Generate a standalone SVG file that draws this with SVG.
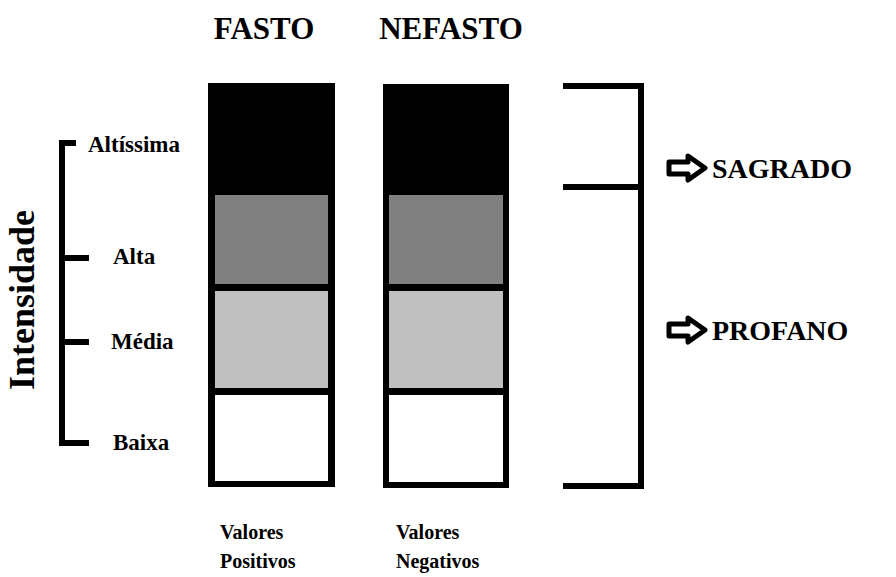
<svg xmlns="http://www.w3.org/2000/svg" width="896" height="577" viewBox="0 0 896 577">
<style>
text{font-family:'Liberation Serif','Times New Roman',Times,serif;font-weight:700;fill:#000}
.title{font-size:31px}
.lvl{font-size:23px}
.side{font-size:28px}
.foot{font-size:20px}
.br{fill:none;stroke:#000;stroke-width:6}
.arr{fill:#fff;stroke:#000;stroke-width:5;stroke-linejoin:round}
.c1{fill:#808080}.c2{fill:#c0c0c0}.c3{fill:#fff}
</style>
<rect width="896" height="577" fill="#fff"/>
<g id="titles">
<text class="title" x="264" y="39" text-anchor="middle">FASTO</text>
<text class="title" x="451" y="39" text-anchor="middle">NEFASTO</text>
</g>
<g id="col-fasto">
<rect x="208" y="83" width="127" height="404" fill="#000"/>
<rect class="c1" x="215" y="195" width="113" height="89"/>
<rect class="c2" x="215" y="291" width="113" height="97"/>
<rect class="c3" x="215" y="395" width="113" height="86"/>
</g>
<g id="col-nefasto">
<rect x="383" y="84" width="126" height="404" fill="#000"/>
<rect class="c1" x="389" y="195" width="114" height="89"/>
<rect class="c2" x="389" y="291" width="114" height="97"/>
<rect class="c3" x="389" y="395" width="114" height="87"/>
</g>
<g id="intensity-scale">
<path class="br" d="M76,143 H62 V443 H89 M62,258 H89 M62,342 H89"/>
<text x="22" y="300" transform="rotate(-90 22 300)" text-anchor="middle" dominant-baseline="central" style="font-size:36px">Intensidade</text>
<text class="lvl" x="88" y="152">Altíssima</text>
<text class="lvl" x="113" y="264">Alta</text>
<text class="lvl" x="111" y="349">Média</text>
<text class="lvl" x="113" y="450">Baixa</text>
</g>
<g id="connectors">
<path class="br" d="M563,86 H641 V486 H563 M563,187 H641"/>
</g>
<g id="sagrado">
<path class="arr" d="M669,162 H688 V156 L705,168 L688,180 V174 H669 Z"/>
<text class="side" x="712" y="178">SAGRADO</text>
</g>
<g id="profano">
<path class="arr" d="M669,324 H688 V318 L705,330 L688,342 V336 H669 Z"/>
<text class="side" x="712" y="340">PROFANO</text>
</g>
<g id="labels">
<text class="foot" x="220" y="539">Valores</text>
<text class="foot" x="220" y="568">Positivos</text>
<text class="foot" x="396" y="539">Valores</text>
<text class="foot" x="396" y="568">Negativos</text>
</g>
</svg>
